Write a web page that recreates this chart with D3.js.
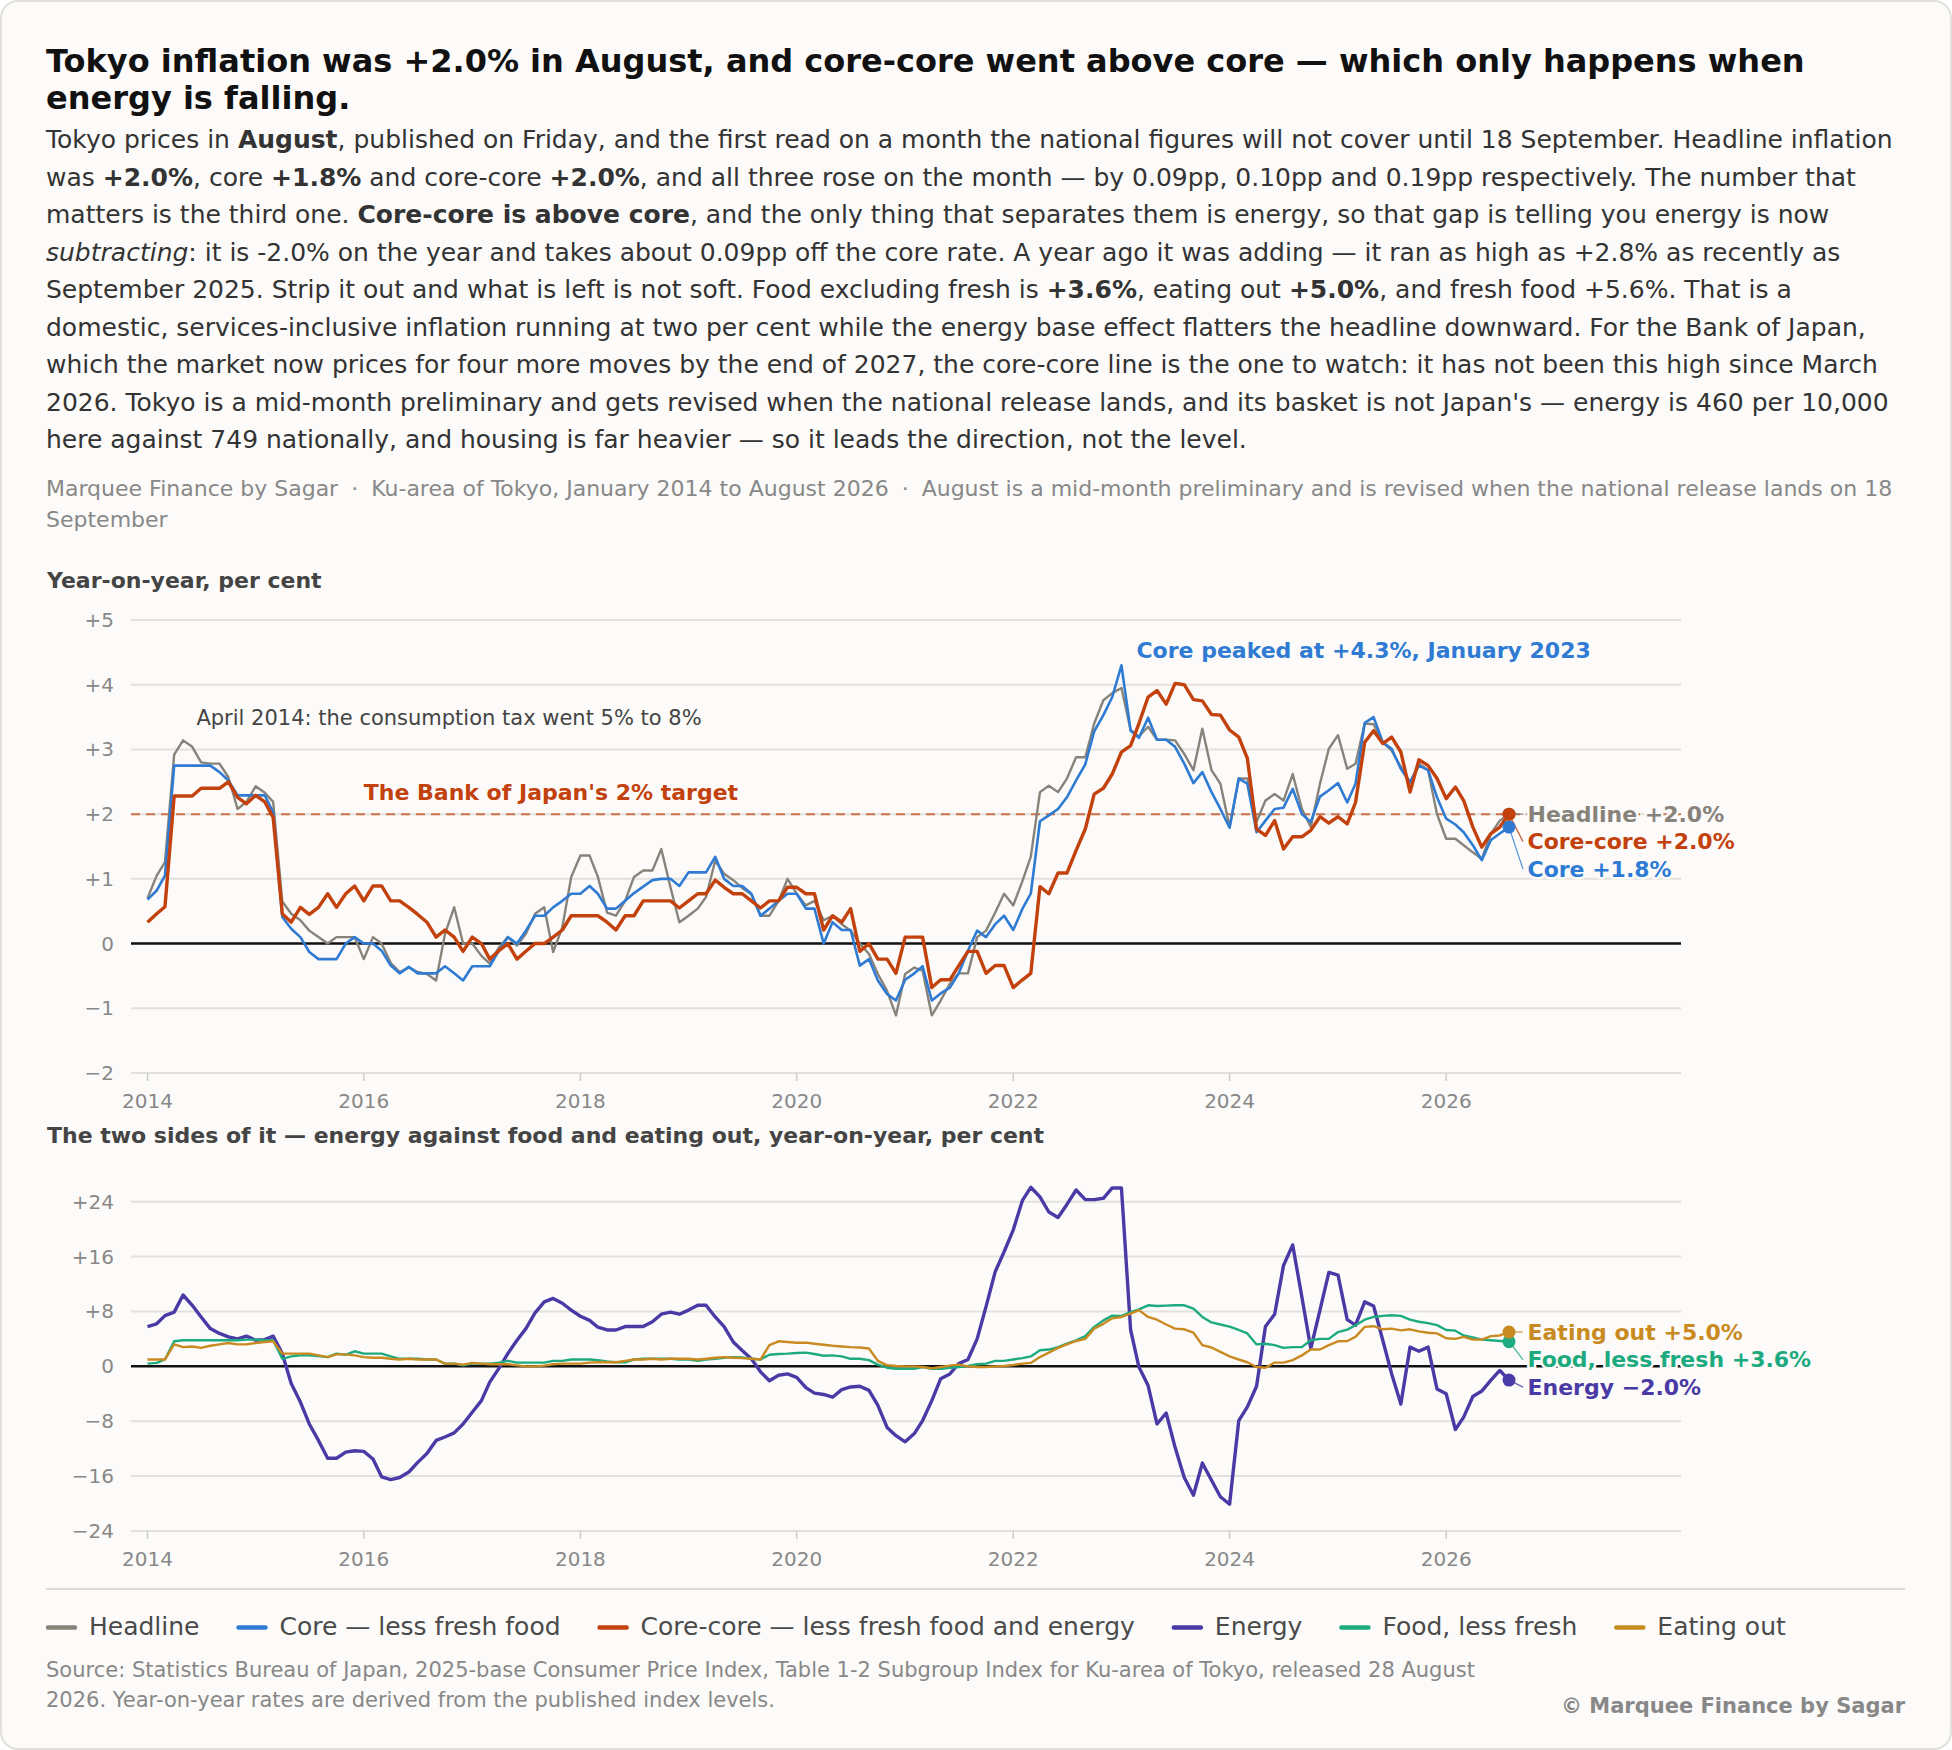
<!DOCTYPE html>
<html>
<head>
<meta charset="utf-8">
<script src="https://cdn.jsdelivr.net/npm/d3@7"></script>
<style>
  body { margin: 0; background: #ffffff; font-family: "DejaVu Sans", sans-serif; }
  .card {
    position: absolute; left: 0; top: 0; width: 1948px; height: 1746px;
    border: 2px solid #e2e0da; border-radius: 18px; background: #fcfbf9;
  }
  #head { position: absolute; left: 46px; top: 43px; width: 1862px; }
  h1 { margin: 0; font-size: 32px; line-height: 36.5px; font-weight: bold; color: #111; }
  .lede { margin: 5px 0 0; font-size: 25px; line-height: 37.5px; color: #333; }
  .lede b { color: #333; }
  .meta { margin: 14px 0 0; font-size: 22px; line-height: 31px; color: #888; }
  .meta .sep { padding: 0 6px; }
  svg { position: absolute; left: 0; top: 0; }
  .src {
    position: absolute; left: 46px; top: 1655px; width: 1470px;
    font-size: 21px; line-height: 30px; color: #888;
  }
  .copy {
    position: absolute; right: 47px; top: 1692px;
    font-size: 21px; line-height: 28px; font-weight: bold; color: #888;
  }
</style>
</head>
<body>
<div class="card"></div>
<div id="head">
  <h1>Tokyo inflation was +2.0% in August, and core-core went above core — which only happens when energy is falling.</h1>
  <p class="lede">Tokyo prices in <b>August</b>, published on Friday, and the first read on a month the national figures will not cover until 18 September. Headline inflation was <b>+2.0%</b>, core <b>+1.8%</b> and core-core <b>+2.0%</b>, and all three rose on the month — by 0.09pp, 0.10pp and 0.19pp respectively. The number that matters is the third one. <b>Core-core is above core</b>, and the only thing that separates them is energy, so that gap is telling you energy is now <i>subtracting</i>: it is -2.0% on the year and takes about 0.09pp off the core rate. A year ago it was adding — it ran as high as +2.8% as recently as September 2025. Strip it out and what is left is not soft. Food excluding fresh is <b>+3.6%</b>, eating out <b>+5.0%</b>, and fresh food +5.6%. That is a domestic, services-inclusive inflation running at two per cent while the energy base effect flatters the headline downward. For the Bank of Japan, which the market now prices for four more moves by the end of 2027, the core-core line is the one to watch: it has not been this high since March 2026. Tokyo is a mid-month preliminary and gets revised when the national release lands, and its basket is not Japan's — energy is 460 per 10,000 here against 749 nationally, and housing is far heavier — so it leads the direction, not the level.</p>
  <p class="meta">Marquee Finance by Sagar <span class="sep">·</span> Ku-area of Tokyo, January 2014 to August 2026 <span class="sep">·</span> August is a mid-month preliminary and is revised when the national release lands on 18 September</p>
</div>
<svg id="chart"></svg>
<div class="src">Source: Statistics Bureau of Japan, 2025-base Consumer Price Index, Table 1-2 Subgroup Index for Ku-area of Tokyo, released 28 August 2026. Year-on-year rates are derived from the published index levels.</div>
<div class="copy">© Marquee Finance by Sagar</div>
<script>
// monthly, January 2014 to August 2026
const months = d3.timeMonth.range(new Date(2014, 0, 1), new Date(2026, 8, 1))
const yearTicks = [2014, 2016, 2018, 2020, 2022, 2024, 2026]
const upperTicks = [-2, -1, 0, 1, 2, 3, 4, 5]
const lowerTicks = [-24, -16, -8, 0, 8, 16, 24]

const headline = [
  0.7, 1.05, 1.26, 2.92, 3.14, 3.04, 2.8, 2.78, 2.78, 2.57,
  2.08, 2.19, 2.43, 2.33, 2.19, 0.65, 0.46, 0.36, 0.2, 0.1,
  0.0, 0.1, 0.1, 0.1, -0.24, 0.1, 0.0, -0.3, -0.44, -0.37,
  -0.44, -0.47, -0.57, 0.15, 0.56, 0.0, 0.0, -0.19, -0.31, -0.06,
  0.1, -0.03, 0.15, 0.46, 0.56, -0.13, 0.25, 1.03, 1.36, 1.36,
  1.03, 0.48, 0.43, 0.66, 1.03, 1.13, 1.13, 1.46, 0.87, 0.33,
  0.43, 0.54, 0.72, 1.28, 1.08, 0.98, 0.86, 0.76, 0.43, 0.43,
  0.66, 1.0, 0.77, 0.59, 0.66, 0.36, 0.43, 0.3, 0.2, 0.0,
  -0.16, -0.47, -0.73, -1.11, -0.47, -0.37, -0.42, -1.11, -0.88, -0.62,
  -0.46, -0.46, 0.1, 0.2, 0.48, 0.77, 0.59, 0.97, 1.34, 2.34,
  2.44, 2.34, 2.55, 2.88, 2.88, 3.4, 3.76, 3.87, 3.95, 3.3,
  3.2, 3.35, 3.15, 3.15, 3.14, 2.93, 2.68, 3.32, 2.68, 2.47,
  1.8, 2.55, 2.55, 1.88, 2.21, 2.31, 2.21, 2.62, 2.08, 1.8,
  2.47, 3.01, 3.22, 2.7, 2.78, 3.4, 3.39, 3.11, 2.98, 2.73,
  2.49, 2.78, 2.68, 2.0, 1.62, 1.62, 1.52, 1.41, 1.31, 1.7,
  1.9, 2.0
]
const core = [
  0.68, 0.82, 1.05, 2.75, 2.75, 2.75, 2.75, 2.75, 2.65, 2.52,
  2.29, 2.29, 2.29, 2.29, 2.03, 0.41, 0.23, 0.1, -0.13, -0.24,
  -0.24, -0.24, 0.0, 0.1, 0.0, 0.0, -0.11, -0.34, -0.46, -0.36,
  -0.46, -0.46, -0.46, -0.35, -0.46, -0.57, -0.35, -0.35, -0.35, -0.11,
  0.1, 0.0, 0.2, 0.43, 0.43, 0.56, 0.66, 0.77, 0.77, 0.89,
  0.77, 0.54, 0.54, 0.66, 0.78, 0.88, 0.98, 1.0, 1.0, 0.89,
  1.1, 1.1, 1.1, 1.34, 1.0, 0.89, 0.89, 0.77, 0.43, 0.54,
  0.66, 0.77, 0.77, 0.54, 0.54, 0.0, 0.33, 0.21, 0.21, -0.34,
  -0.24, -0.57, -0.78, -0.88, -0.56, -0.46, -0.35, -0.88, -0.77, -0.68,
  -0.46, -0.11, 0.2, 0.1, 0.3, 0.43, 0.21, 0.54, 0.77, 1.89,
  1.98, 2.08, 2.26, 2.52, 2.77, 3.28, 3.53, 3.81, 4.3, 3.29,
  3.18, 3.49, 3.15, 3.15, 3.04, 2.78, 2.48, 2.65, 2.34, 2.08,
  1.79, 2.55, 2.47, 1.72, 1.9, 2.08, 2.1, 2.39, 2.0, 1.88,
  2.27, 2.37, 2.48, 2.18, 2.47, 3.41, 3.5, 3.11, 3.01, 2.7,
  2.49, 2.75, 2.68, 2.26, 1.93, 1.84, 1.72, 1.52, 1.29, 1.6,
  1.7, 1.8
]
const coreCore = [
  0.33, 0.46, 0.57, 2.28, 2.28, 2.28, 2.4, 2.4, 2.4, 2.5,
  2.26, 2.16, 2.29, 2.19, 1.95, 0.46, 0.33, 0.56, 0.45, 0.56,
  0.77, 0.56, 0.77, 0.89, 0.66, 0.89, 0.89, 0.66, 0.66, 0.56,
  0.45, 0.33, 0.1, 0.21, 0.1, -0.12, 0.1, 0.0, -0.24, -0.11,
  0.0, -0.24, -0.12, 0.0, 0.0, 0.1, 0.21, 0.43, 0.43, 0.43,
  0.43, 0.33, 0.21, 0.43, 0.43, 0.66, 0.66, 0.66, 0.66, 0.55,
  0.66, 0.77, 0.77, 0.98, 0.87, 0.77, 0.77, 0.66, 0.55, 0.66,
  0.66, 0.87, 0.87, 0.77, 0.77, 0.21, 0.43, 0.33, 0.54, -0.12,
  0.0, -0.24, -0.24, -0.46, 0.1, 0.1, 0.1, -0.68, -0.56, -0.56,
  -0.34, -0.12, -0.12, -0.46, -0.34, -0.34, -0.68, -0.56, -0.46, 0.88,
  0.77, 1.09, 1.09, 1.44, 1.77, 2.31, 2.4, 2.62, 2.96, 3.06,
  3.4, 3.81, 3.91, 3.7, 4.02, 4.0, 3.77, 3.75, 3.54, 3.53,
  3.3, 3.19, 2.86, 1.77, 1.67, 1.9, 1.46, 1.65, 1.65, 1.75,
  1.96, 1.86, 1.96, 1.85, 2.18, 3.11, 3.29, 3.09, 3.19, 2.96,
  2.34, 2.84, 2.75, 2.55, 2.24, 2.42, 2.21, 1.8, 1.49, 1.7,
  1.8, 2.0
]
const energy = [
  5.8, 6.2, 7.4, 7.9, 10.4, 8.9, 7.2, 5.5, 4.8, 4.3,
  4.0, 4.4, 3.8, 3.9, 4.4, 1.85, -2.5, -5.2, -8.4, -10.8,
  -13.4, -13.4, -12.5, -12.3, -12.4, -13.5, -16.1, -16.5, -16.2, -15.4,
  -14.0, -12.7, -10.8, -10.3, -9.7, -8.4, -6.7, -5.0, -2.3, -0.3,
  1.85, 3.8, 5.5, 7.8, 9.4, 9.9, 9.2, 8.2, 7.3, 6.7,
  5.7, 5.3, 5.3, 5.8, 5.8, 5.8, 6.5, 7.6, 7.9, 7.6,
  8.2, 8.9, 8.9, 7.2, 5.8, 3.55, 2.3, 1.1, -0.8, -2.1,
  -1.3, -1.1, -1.6, -3.1, -3.9, -4.1, -4.5, -3.4, -3.0, -2.9,
  -3.5, -5.7, -8.9, -10.1, -11.0, -9.8, -7.9, -5.0, -1.8, -1.1,
  0.4, 1.0, 4.0, 8.7, 13.8, 16.7, 19.9, 24.2, 26.1, 24.7,
  22.5, 21.7, 23.6, 25.7, 24.3, 24.3, 24.5, 26.0, 26.0, 5.3,
  -0.1, -2.8, -8.4, -6.8, -11.8, -16.2, -18.8, -14.1, -16.6, -19.0,
  -20.1, -7.9, -5.9, -2.9, 5.8, 7.6, 14.7, 17.7, 10.1, 2.6,
  8.2, 13.7, 13.3, 6.8, 6.0, 9.4, 8.8, 3.8, -1.1, -5.5,
  2.8, 2.2, 2.8, -3.3, -4.0, -9.2, -7.4, -4.4, -3.6, -2.0,
  -0.6, -2.0
]
const foodLessFresh = [
  0.4, 0.5, 1.0, 3.65, 3.8, 3.8, 3.8, 3.8, 3.8, 3.8,
  3.8, 3.9, 3.9, 3.8, 3.8, 1.1, 1.45, 1.6, 1.6, 1.5,
  1.35, 1.85, 1.7, 2.2, 1.85, 1.85, 1.85, 1.45, 1.1, 1.1,
  1.1, 1.0, 1.0, 0.4, 0.4, 0.15, 0.4, 0.4, 0.4, 0.55,
  0.8, 0.55, 0.55, 0.55, 0.55, 0.8, 0.8, 1.0, 1.0, 1.0,
  0.9, 0.7, 0.6, 0.6, 1.0, 1.1, 1.1, 1.1, 1.1, 1.0,
  1.0, 0.8, 1.0, 1.1, 1.25, 1.35, 1.3, 1.1, 1.0, 1.7,
  1.8, 1.85, 1.95, 2.0, 1.8, 1.55, 1.6, 1.45, 1.1, 1.1,
  0.9, 0.25, -0.2, -0.35, -0.35, -0.35, -0.1, -0.35, -0.35, -0.2,
  -0.1, 0.05, 0.3, 0.4, 0.8, 0.8, 1.0, 1.2, 1.45, 2.35,
  2.45, 2.8, 3.3, 3.8, 4.4, 5.75, 6.7, 7.4, 7.35, 7.9,
  8.3, 8.9, 8.8, 8.85, 8.9, 8.9, 8.4, 7.2, 6.4, 6.1,
  5.8, 5.3, 4.8, 3.2, 3.3, 3.1, 2.7, 2.8, 2.8, 3.8,
  4.0, 4.0, 5.0, 5.35, 6.0, 6.8, 7.2, 7.35, 7.45, 7.35,
  6.8, 6.5, 6.3, 6.0, 5.3, 5.2, 4.5, 4.2, 3.9, 3.8,
  3.7, 3.6
]
const eatingOut = [
  1.0, 1.0, 1.0, 3.2, 2.8, 2.9, 2.7, 3.0, 3.2, 3.4,
  3.2, 3.2, 3.4, 3.55, 3.65, 1.85, 1.85, 1.85, 1.85, 1.6,
  1.35, 1.75, 1.75, 1.6, 1.35, 1.25, 1.25, 1.1, 1.0, 1.1,
  1.0, 1.0, 1.0, 0.4, 0.4, 0.25, 0.5, 0.4, 0.3, 0.3,
  0.3, 0.15, 0.0, 0.0, 0.1, 0.3, 0.4, 0.4, 0.4, 0.55,
  0.6, 0.6, 0.6, 0.8, 1.0, 1.0, 1.1, 1.0, 1.1, 1.1,
  1.1, 1.0, 1.1, 1.25, 1.35, 1.25, 1.2, 1.1, 1.0, 3.1,
  3.65, 3.55, 3.45, 3.45, 3.3, 3.15, 3.0, 2.9, 2.8, 2.75,
  2.6, 0.8, 0.15, 0.05, 0.0, 0.0, -0.1, -0.3, -0.1, 0.1,
  0.25, 0.0, -0.1, -0.1, 0.0, 0.05, 0.2, 0.4, 0.5, 1.35,
  2.0, 2.7, 3.2, 3.7, 4.0, 5.5, 6.2, 7.0, 7.2, 7.7,
  8.2, 7.2, 6.8, 6.1, 5.5, 5.4, 4.9, 3.1, 2.75, 2.1,
  1.45, 1.0, 0.6, -0.1, -0.2, 0.55, 0.55, 0.9, 1.6, 2.45,
  2.45, 3.1, 3.65, 3.7, 4.3, 5.75, 5.85, 5.4, 5.5, 5.25,
  5.4, 5.1, 4.9, 4.8, 4.1, 4.0, 4.3, 3.9, 3.9, 4.4,
  4.5, 5.0
]

const colors = {
  headline: '#87837b',
  core: '#2f7bd4',
  coreCore: '#c2410c',
  energy: '#4a3aa6',
  food: '#1daa7f',
  eating: '#c98a22'
}
const bg = '#fcfbf9'

const upperSeries = [
  { key: 'headline', name: 'Headline', values: headline, color: colors.headline, width: 2.4 },
  { key: 'core', name: 'Core', values: core, color: colors.core, width: 2.6 },
  { key: 'coreCore', name: 'Core-core', values: coreCore, color: colors.coreCore, width: 3.4 }
]
const lowerSeries = [
  { key: 'energy', name: 'Energy', values: energy, color: colors.energy, width: 3.4 },
  { key: 'food', name: 'Food, less fresh', values: foodLessFresh, color: colors.food, width: 2.4 },
  { key: 'eating', name: 'Eating out', values: eatingOut, color: colors.eating, width: 2.4 }
]
const legendItems = [
  ['Headline', colors.headline],
  ['Core — less fresh food', colors.core],
  ['Core-core — less fresh food and energy', colors.coreCore],
  ['Energy', colors.energy],
  ['Food, less fresh', colors.food],
  ['Eating out', colors.eating]
]

const W = 1952
const H = 1750
const gridL = 131
const gridR = 1681
const svg = d3.select('#chart').attr('width', W).attr('height', H)
  .style('font-family', '"DejaVu Sans", sans-serif')

const x = d3.scaleTime()
  .domain([months[0], months[months.length - 1]])
  .range([147.5, 1509])

const signed = (v, d = 0) => v > 0 ? `+${v.toFixed(d)}` : v < 0 ? `\u2212${Math.abs(v).toFixed(d)}` : '0'

// text with a background-coloured halo, so lines behind it are masked
function halo(sel) {
  return sel.attr('stroke', bg).attr('stroke-width', 5)
    .attr('stroke-linejoin', 'round').attr('paint-order', 'stroke')
}

function panel(opts) {
  const { y, ticks, series, title, titleY } = opts
  const g = svg.append('g')
  const bottom = y(ticks[0])

  g.append('text')
    .attr('x', 47).attr('y', titleY)
    .attr('font-size', 22).attr('font-weight', 'bold').attr('fill', '#444')
    .text(title)

  g.append('g').selectAll('line').data(ticks.filter((t) => t !== 0)).join('line')
    .attr('x1', gridL).attr('x2', gridR)
    .attr('y1', (d) => y(d)).attr('y2', (d) => y(d))
    .attr('stroke', '#e3e1db').attr('stroke-width', 2)

  g.append('g').selectAll('text').data(ticks).join('text')
    .attr('x', 114).attr('y', (d) => y(d)).attr('dy', '0.35em')
    .attr('text-anchor', 'end').attr('font-size', 20).attr('fill', '#888')
    .text((d) => signed(d))

  const years = yearTicks.map((yr) => new Date(yr, 0, 1))
  g.append('g').selectAll('line').data(years).join('line')
    .attr('x1', (d) => x(d)).attr('x2', (d) => x(d))
    .attr('y1', bottom).attr('y2', bottom + 8)
    .attr('stroke', '#cfccc5').attr('stroke-width', 1.5)
  g.append('g').selectAll('text').data(years).join('text')
    .attr('x', (d) => x(d)).attr('y', bottom + 35)
    .attr('text-anchor', 'middle').attr('font-size', 20).attr('fill', '#888')
    .text((d) => d.getFullYear())

  if (opts.before) opts.before(g)

  g.append('line')
    .attr('x1', gridL).attr('x2', gridR).attr('y1', y(0)).attr('y2', y(0))
    .attr('stroke', '#111').attr('stroke-width', 2.5)

  const line = d3.line().x((d, i) => x(months[i])).y((d) => y(d))
  series.forEach((s) => {
    g.append('path').datum(s.values)
      .attr('fill', 'none').attr('stroke', s.color).attr('stroke-width', s.width)
      .attr('stroke-linejoin', 'round').attr('d', line)
  })

  // end labels, stacked downward so they never overlap
  const last = months.length - 1
  const xEnd = x(months[last])
  const sorted = series.map((s) => ({ s, v: s.values[last] }))
    .sort((a, b) => b.v - a.v)
  let prev = -Infinity
  sorted.forEach((d) => {
    d.ly = Math.max(y(d.v), prev + 27.5)
    prev = d.ly
  })
  sorted.forEach((d) => {
    g.append('line')
      .attr('x1', xEnd).attr('y1', y(d.v)).attr('x2', xEnd + 14).attr('y2', d.ly)
      .attr('stroke', d.s.color).attr('stroke-width', 1.3).attr('opacity', 0.8)
  })
  series.forEach((s) => {
    g.append('circle').attr('cx', xEnd).attr('cy', y(s.values[last])).attr('r', 6.5)
      .attr('fill', s.color)
  })
  sorted.forEach((d) => {
    g.append('text')
      .attr('x', xEnd + 18.5).attr('y', d.ly).attr('dy', '0.35em')
      .attr('font-size', 22).attr('font-weight', 'bold').attr('fill', d.s.color)
      .call(halo)
      .text(`${d.s.name} ${signed(d.v, 1)}%`)
  })

  if (opts.after) opts.after(g)
}

const yU = d3.scaleLinear().domain([-2, 5]).range([1073, 620])
panel({
  y: yU,
  ticks: upperTicks,
  series: upperSeries,
  title: 'Year-on-year, per cent',
  titleY: 588,
  before(g) {
    g.append('line')
      .attr('x1', gridL).attr('x2', gridR).attr('y1', yU(2)).attr('y2', yU(2))
      .attr('stroke', colors.coreCore).attr('stroke-opacity', 0.7)
      .attr('stroke-width', 2).attr('stroke-dasharray', '9 6')
  },
  after(g) {
    g.append('text')
      .attr('x', x(new Date(2014, 5, 15))).attr('y', yU(3.37))
      .attr('font-size', 21).attr('fill', '#444')
      .text('April 2014: the consumption tax went 5% to 8%')
    g.append('text')
      .attr('x', x(new Date(2016, 0, 1))).attr('y', yU(2) - 14)
      .attr('font-size', 22).attr('font-weight', 'bold').attr('fill', colors.coreCore)
      .text("The Bank of Japan's 2% target")
    const peak = months[108]
    g.append('text')
      .attr('x', x(peak) + 15).attr('y', yU(4.3) - 7)
      .attr('font-size', 22).attr('font-weight', 'bold').attr('fill', colors.core)
      .text('Core peaked at +4.3%, January 2023')
  }
})

const yL = d3.scaleLinear().domain([-24, 24]).range([1531, 1201.7])
panel({
  y: yL,
  ticks: lowerTicks,
  series: lowerSeries,
  title: 'The two sides of it — energy against food and eating out, year-on-year, per cent',
  titleY: 1143
})

// divider and legend
svg.append('line')
  .attr('x1', 46).attr('x2', 1905).attr('y1', 1589).attr('y2', 1589)
  .attr('stroke', '#dddbd4').attr('stroke-width', 2)

let lx = 46
const legend = svg.append('g')
legendItems.forEach(([label, color]) => {
  legend.append('line')
    .attr('x1', lx + 2).attr('x2', lx + 29).attr('y1', 1627.5).attr('y2', 1627.5)
    .attr('stroke', color).attr('stroke-width', 4.5).attr('stroke-linecap', 'round')
  const t = legend.append('text')
    .attr('x', lx + 43).attr('y', 1634.5)
    .attr('font-size', 25).attr('fill', '#4a4a4a')
    .text(label)
  lx += 43 + t.node().getComputedTextLength() + 37
})
</script>
</body>
</html>
